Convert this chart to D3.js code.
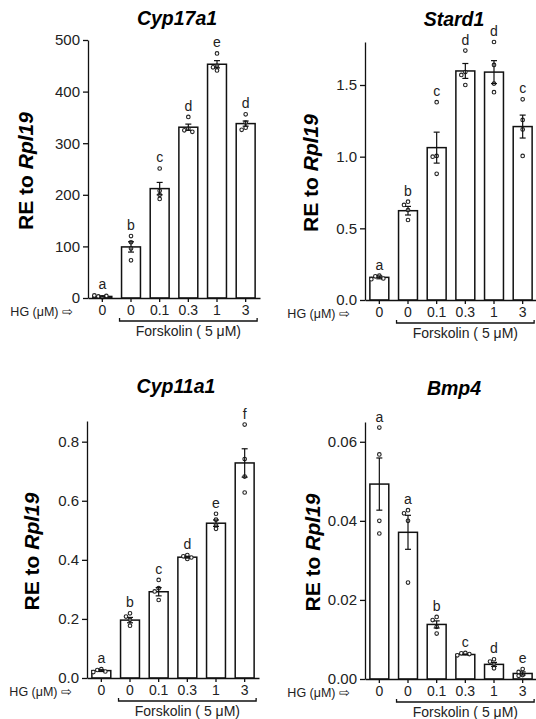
<!DOCTYPE html>
<html>
<head>
<meta charset="utf-8">
<script src="https://cdn.jsdelivr.net/npm/d3@7"></script>
<style>
  body { margin: 0; background: #fff; }
  svg { display: block; font-family: "Liberation Sans", Arial, sans-serif; }
</style>
</head>
<body>
<svg id="chart" width="536" height="719"></svg>
<script>
// HG doses (uM), first group without forskolin
const doses = ['0', '0', '0.1', '0.3', '1', '3']

// Cyp17a1
const cyp17Mean = [3, 99, 212, 331, 453, 338]
const cyp17Sem = [1, 10, 12, 6, 7, 5]
const cyp17Pts = [[1.5, 3, 4, 5], [120, 108, 96, 73], [251, 208, 200, 192], [351, 328, 325, 322], [474, 450, 447, 441], [356, 340, 330, 326]]
const cyp17Letters = ['a', 'b', 'c', 'd', 'e', 'd']

// Stard1
const stardMean = [0.158, 0.623, 1.063, 1.598, 1.59, 1.21]
const stardSem = [0.01, 0.03, 0.108, 0.052, 0.08, 0.08]
const stardPts = [[0.17, 0.165, 0.15, 0.145], [0.686, 0.663, 0.628, 0.558], [1.38, 1.005, 1.0, 0.88], [1.74, 1.59, 1.57, 1.50], [1.80, 1.64, 1.51, 1.45], [1.40, 1.256, 1.19, 1.005]]
const stardLetters = ['a', 'b', 'c', 'd', 'd', 'c']

// Cyp11a1
const cyp11Mean = [0.025, 0.196, 0.292, 0.409, 0.524, 0.728]
const cyp11Sem = [0.003, 0.009, 0.014, 0.003, 0.011, 0.048]
const cyp11Pts = [[0.03, 0.027, 0.022, 0.02], [0.219, 0.208, 0.197, 0.177], [0.332, 0.304, 0.293, 0.264], [0.416, 0.412, 0.408, 0.403], [0.556, 0.536, 0.518, 0.505], [0.858, 0.741, 0.682, 0.628]]
const cyp11Letters = ['a', 'b', 'c', 'd', 'e', 'f']

// Bmp4
const bmpMean = [0.0493, 0.0371, 0.0138, 0.0062, 0.0037, 0.0014]
const bmpSem = [0.0066, 0.0043, 0.0009, 0.0001, 0.0005, 0.0004]
const bmpPts = [[0.0636, 0.0568, 0.040, 0.0368], [0.0427, 0.0419, 0.040, 0.0244], [0.0157, 0.0149, 0.0132, 0.0115], [0.0066, 0.0065, 0.0063, 0.0060], [0.0050, 0.0044, 0.0038, 0.0027], [0.0025, 0.0018, 0.0010, 0.0008]]
const bmpLetters = ['a', 'a', 'b', 'c', 'd', 'e']

const panels = [
  { title: 'Cyp17a1', mean: cyp17Mean, sem: cyp17Sem, pts: cyp17Pts, letters: cyp17Letters,
    ymax: 500, ticks: [0, 100, 200, 300, 400, 500], fmt: d3.format('d'),
    left: 88, right: 260, bottom: 298, top: 40, titleY: 25, labelX: 25 },
  { title: 'Stard1', mean: stardMean, sem: stardSem, pts: stardPts, letters: stardLetters,
    ymax: 1.8, ticks: [0, 0.5, 1, 1.5], fmt: d3.format('.1f'),
    left: 365, right: 537, bottom: 300, top: 42, titleY: 26, labelX: 310 },
  { title: 'Cyp11a1', mean: cyp11Mean, sem: cyp11Sem, pts: cyp11Pts, letters: cyp11Letters,
    ymax: 0.87, ticks: [0, 0.2, 0.4, 0.6, 0.8], fmt: d3.format('.1f'),
    left: 87, right: 259, bottom: 678, top: 421, titleY: 393, labelX: 31 },
  { title: 'Bmp4', mean: bmpMean, sem: bmpSem, pts: bmpPts, letters: bmpLetters,
    ymax: 0.065, ticks: [0, 0.02, 0.04, 0.06], fmt: d3.format('.2f'),
    left: 365, right: 537, bottom: 679, top: 422, titleY: 395, labelX: 312 }
]

const svg = d3.select('#chart')

function drawPanel (p) {
  const x = d3.scaleBand().domain(d3.range(doses.length))
              .range([p.left, p.right]).paddingInner(0.34).paddingOuter(0.17)
  const y = d3.scaleLinear().domain([0, p.ymax]).range([p.bottom, p.top])
  const bw = x.bandwidth()
  const g = svg.append('g')

  // bars
  g.selectAll('rect.bar').data(p.mean).join('rect')
    .attr('x', (d, i) => x(i))
    .attr('y', d => y(d))
    .attr('width', bw)
    .attr('height', d => y(0) - y(d))
    .attr('fill', '#fff')
    .attr('stroke', '#111')
    .attr('stroke-width', 1.5)

  // dots, spread sideways when they would overlap
  p.pts.forEach((vals, i) => {
    const cx = x(i) + bw / 2
    const placed = []
    vals.forEach(v => {
      const cy = y(v)
      const offs = [0, -4, 4, -8, 8, -12, 12]
      let dx = 0
      for (const o of offs) {
        if (placed.every(q => Math.hypot(q[0] - o, q[1] - cy) >= 3.8)) { dx = o; break }
      }
      placed.push([dx, cy])
      g.append('circle')
        .attr('cx', cx + dx).attr('cy', cy).attr('r', 1.8)
        .attr('fill', '#fff').attr('stroke', '#222').attr('stroke-width', 1.1)
    })
  })

  // error bars
  p.mean.forEach((m, i) => {
    const cx = x(i) + bw / 2
    const lo = y(m - p.sem[i]), hi = y(m + p.sem[i])
    g.append('line').attr('x1', cx).attr('x2', cx).attr('y1', lo).attr('y2', hi)
      .attr('stroke', '#111').attr('stroke-width', 1.2)
    ;[lo, hi].forEach(yy => g.append('line')
      .attr('x1', cx - 3).attr('x2', cx + 3).attr('y1', yy).attr('y2', yy)
      .attr('stroke', '#111').attr('stroke-width', 1.2))
  })

  // significance letters
  p.letters.forEach((l, i) => {
    const topY = Math.min(y(d3.max(p.pts[i])), y(p.mean[i] + p.sem[i]))
    g.append('text')
      .attr('x', x(i) + bw / 2).attr('y', topY - 6)
      .attr('text-anchor', 'middle').attr('font-size', 14).attr('fill', '#222')
      .text(l)
  })

  // axes
  const ay = g.append('g').attr('transform', `translate(${p.left},0)`)
    .call(d3.axisLeft(y).tickValues(p.ticks).tickFormat(p.fmt).tickSize(5).tickSizeOuter(0))
  ay.selectAll('text').attr('font-size', 15).attr('fill', '#222').attr('font-family', null)
  const ax = g.append('g').attr('transform', `translate(0,${p.bottom})`)
    .call(d3.axisBottom(x).tickFormat(i => doses[i]).tickSize(4).tickPadding(3).tickSizeOuter(0))
  ax.selectAll('text').attr('font-size', 14).attr('fill', '#222').attr('font-family', null)
  g.selectAll('.domain, .tick line').attr('stroke', '#111').attr('stroke-width', 1.3)

  // HG label
  g.append('text')
    .attr('x', p.left - 15).attr('y', p.bottom + 18)
    .attr('text-anchor', 'end').attr('font-size', 12.5).attr('fill', '#222')
    .text('HG (\u03bcM) \u21e8')

  // forskolin bracket
  const bx0 = x(1) - 2, bx1 = x(doses.length - 1) + bw + 2, by = p.bottom + 23
  g.append('path')
    .attr('d', `M${bx0},${by - 3}V${by}H${bx1}V${by - 3}`)
    .attr('fill', 'none').attr('stroke', '#111').attr('stroke-width', 1.3)
  g.append('text')
    .attr('x', (bx0 + bx1) / 2).attr('y', p.bottom + 38)
    .attr('text-anchor', 'middle').attr('font-size', 14).attr('fill', '#222')
    .text('Forskolin ( 5 \u03bcM)')

  // title
  g.append('text')
    .attr('x', (p.left + p.right) / 2 + 3).attr('y', p.titleY)
    .attr('text-anchor', 'middle').attr('font-size', 19.5)
    .attr('font-weight', 'bold').attr('font-style', 'italic')
    .text(p.title)

  // y label
  const yl = g.append('text')
    .attr('transform', `translate(${p.labelX},${(p.top + p.bottom) / 2 + 2}) rotate(-90)`)
    .attr('text-anchor', 'middle').attr('dy', '0.36em')
    .attr('font-size', 21).attr('font-weight', 'bold')
  yl.append('tspan').text('RE to ')
  yl.append('tspan').attr('font-style', 'italic').text('Rpl19')
}

panels.forEach(drawPanel)
</script>
</body>
</html>
